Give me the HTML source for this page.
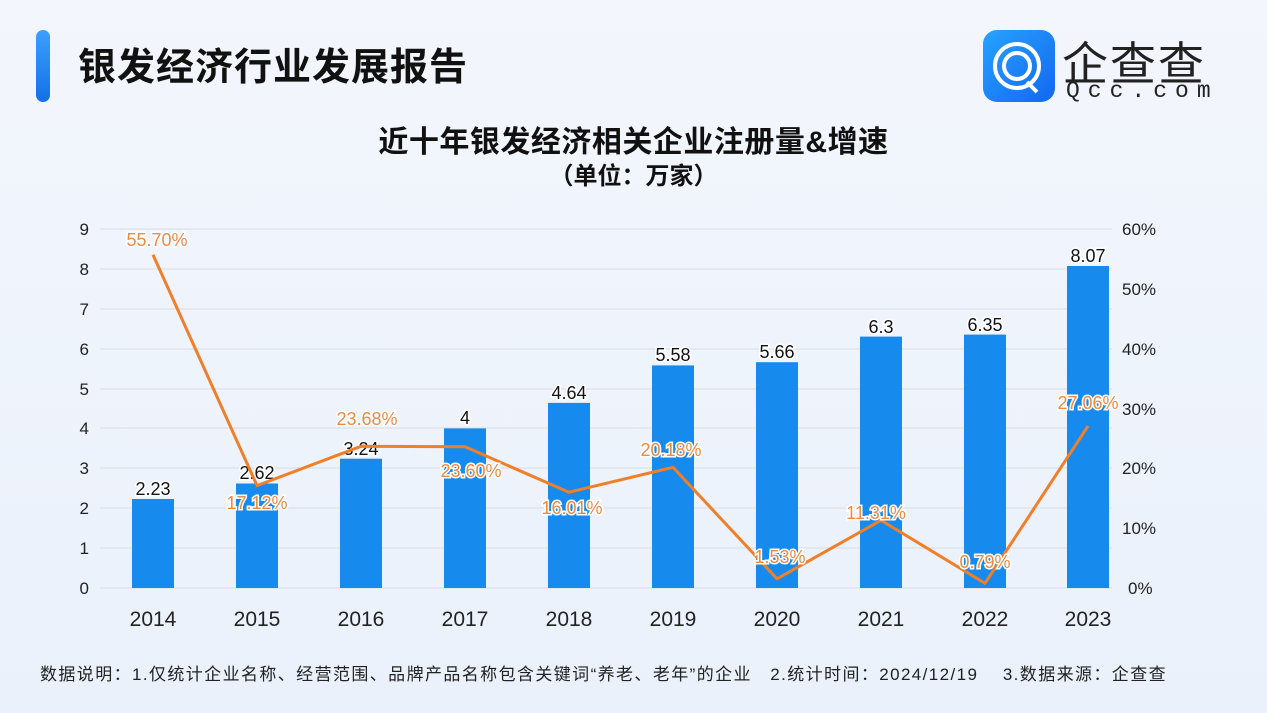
<!DOCTYPE html>
<html><head><meta charset="utf-8"><style>
body{margin:0;width:1267px;height:713px;overflow:hidden;background:linear-gradient(180deg,#f3f6fc 0%,#eaf1fb 100%);font-family:"Liberation Sans","Noto Sans CJK SC",sans-serif;position:relative}
.t{position:absolute;white-space:nowrap}
</style></head><body>
<div style="position:absolute;left:36px;top:30px;width:14px;height:72px;border-radius:7px;background:linear-gradient(180deg,#3aa0ff,#1470e6)"></div>
<div class="t" style="left:78px;top:36px;font-size:38px;font-weight:bold;color:#111;letter-spacing:1px">银发经济行业发展报告</div>
<div style="position:absolute;left:983px;top:30px;width:72px;height:72px;border-radius:14px;background:linear-gradient(135deg,#27a2ff,#1268f0)"></div>
<svg style="position:absolute;left:983px;top:30px" width="72" height="72"><g fill="none" stroke="#fff" stroke-width="4"><circle cx="34" cy="36" r="22"/><circle cx="34" cy="36" r="13"/><path d="M44 52 L54 62"/></g></svg>
<div class="t" style="left:1062px;top:28px;font-size:46px;color:#222;letter-spacing:2px">企查查</div>
<div class="t" style="left:1066px;top:78px;font-size:23px;color:#222;letter-spacing:8px;font-family:'Liberation Mono',monospace">Qcc.com</div>
<div class="t" style="left:0;width:1267px;text-align:center;top:117px;font-size:30px;font-weight:bold;color:#111;letter-spacing:0.5px">近十年银发经济相关企业注册量&amp;增速</div>
<div class="t" style="left:0;width:1267px;text-align:center;top:156px;font-size:24px;font-weight:bold;color:#111">（单位：万家）</div>
<svg style="position:absolute;left:0;top:0" width="1267" height="713" font-family="Liberation Sans, sans-serif">
<g stroke="#d9dde5" stroke-width="1">
<line x1="100" x2="1112" y1="229" y2="229"/><line x1="100" x2="1112" y1="269" y2="269"/><line x1="100" x2="1112" y1="309" y2="309"/><line x1="100" x2="1112" y1="349" y2="349"/><line x1="100" x2="1112" y1="389" y2="389"/><line x1="100" x2="1112" y1="428" y2="428"/><line x1="100" x2="1112" y1="468" y2="468"/><line x1="100" x2="1112" y1="508" y2="508"/><line x1="100" x2="1112" y1="548" y2="548"/><line x1="100" x2="1112" y1="588" y2="588"/>
</g>
<g font-size="17" fill="#222" text-anchor="end">
<text x="89" y="235">9</text><text x="89" y="275">8</text><text x="89" y="315">7</text><text x="89" y="355">6</text><text x="89" y="395">5</text><text x="89" y="434">4</text><text x="89" y="474">3</text><text x="89" y="514">2</text><text x="89" y="554">1</text><text x="89" y="594">0</text>
</g>
<g font-size="17" fill="#222" text-anchor="start">
<text x="1122" y="235">60%</text><text x="1122" y="295">50%</text><text x="1122" y="355">40%</text><text x="1122" y="415">30%</text><text x="1122" y="474">20%</text><text x="1122" y="534">10%</text><text x="1128" y="594">0%</text>
</g>
<g fill="#168bed">
<rect x="132" y="499" width="42" height="89"/><rect x="236" y="483.5" width="42" height="104.5"/><rect x="340" y="458.7" width="42" height="129.3"/><rect x="444" y="428.4" width="42" height="159.6"/><rect x="548" y="402.9" width="42" height="185.1"/><rect x="652" y="365.4" width="42" height="222.6"/><rect x="756" y="362.2" width="42" height="225.8"/><rect x="860" y="336.6" width="42" height="251.4"/><rect x="964" y="334.6" width="42" height="253.4"/><rect x="1067" y="266" width="42" height="322"/>
</g>
<g font-size="18" fill="#111" text-anchor="middle" stroke="#fff" stroke-width="3" paint-order="stroke">
<text x="153" y="495">2.23</text><text x="257" y="479">2.62</text><text x="361" y="455">3.24</text><text x="465" y="424">4</text><text x="569" y="399">4.64</text><text x="673" y="361">5.58</text><text x="777" y="358">5.66</text><text x="881" y="333">6.3</text><text x="985" y="331">6.35</text><text x="1088" y="262">8.07</text>
</g>
<polyline fill="none" stroke="#f07f2a" stroke-width="3" stroke-linejoin="round" points="153,254.7 257,485.6 361,446.3 465,446.8 569,492.2 673,467.3 777,578.8 881,520.3 985,583.3 1088,426.1"/>
<g font-size="18" fill="#e98a45" text-anchor="middle" stroke="#fff" stroke-width="3" paint-order="stroke">
<text x="157" y="246">55.70%</text><text x="257" y="509">17.12%</text><text x="367" y="425">23.68%</text><text x="471" y="477">23.60%</text><text x="572" y="514">16.01%</text><text x="671" y="456">20.18%</text><text x="780" y="563">1.53%</text><text x="876" y="519">11.31%</text><text x="985" y="568">0.79%</text><text x="1088" y="409">27.06%</text>
</g>
<g font-size="21" fill="#222" text-anchor="middle">
<text x="153" y="626">2014</text><text x="257" y="626">2015</text><text x="361" y="626">2016</text><text x="465" y="626">2017</text><text x="569" y="626">2018</text><text x="673" y="626">2019</text><text x="777" y="626">2020</text><text x="881" y="626">2021</text><text x="985" y="626">2022</text><text x="1088" y="626">2023</text>
</g>
</svg>
<div class="t" style="left:40px;top:660px;font-size:17px;color:#222;letter-spacing:1.4px">数据说明：1.仅统计企业名称、经营范围、品牌产品名称包含关键词“养老、老年”的企业&nbsp;&nbsp;&nbsp;2.统计时间：2024/12/19&nbsp;&nbsp;&nbsp;&nbsp;3.数据来源：企查查</div>
</body></html>
